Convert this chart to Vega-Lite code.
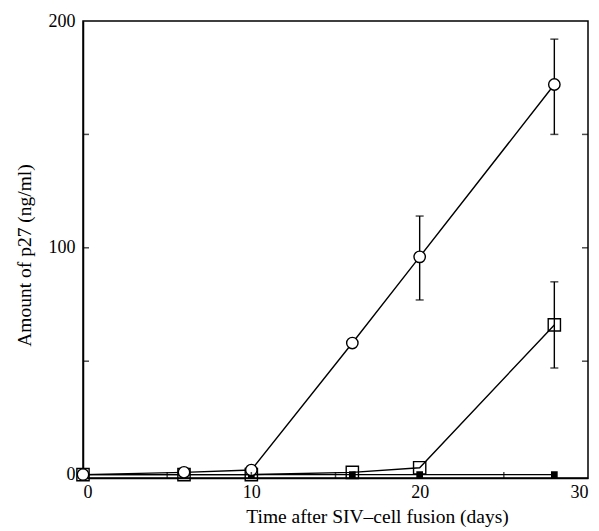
{
  "$schema": "https://vega.github.io/schema/vega-lite/v6.json",
  "autosize": "none",
  "width": 505,
  "height": 457,
  "padding": {"left": 83, "top": 21, "right": 11, "bottom": 53},
  "background": "white",
  "config": {
    "view": {"stroke": "black", "strokeWidth": 1.5},
    "font": "Liberation Serif",
    "axis": {"labelFont": "Liberation Serif", "titleFont": "Liberation Serif", "labelFontSize": 18, "titleFontSize": 19.5, "titleFontWeight": "normal", "labelColor": "black", "titleColor": "black", "domainColor": "black", "tickColor": "black", "grid": false}
  },
  "datasets": {
    "pts": [
      {"series": "circle", "day": 0, "value": 0},
      {"series": "circle", "day": 6, "value": 1},
      {"series": "circle", "day": 10, "value": 2},
      {"series": "circle", "day": 16, "value": 58},
      {"series": "circle", "day": 20, "value": 96},
      {"series": "circle", "day": 28, "value": 172},
      {"series": "square", "day": 0, "value": 0},
      {"series": "square", "day": 6, "value": 0},
      {"series": "square", "day": 10, "value": 0},
      {"series": "square", "day": 16, "value": 1},
      {"series": "square", "day": 20, "value": 3},
      {"series": "square", "day": 28, "value": 66},
      {"series": "filled", "day": 0, "value": 0},
      {"series": "filled", "day": 6, "value": 0},
      {"series": "filled", "day": 10, "value": 0},
      {"series": "filled", "day": 16, "value": 0},
      {"series": "filled", "day": 20, "value": 0},
      {"series": "filled", "day": 28, "value": 0}
    ],
    "err": [
      {"series": "circle", "day": 20, "lo": 77, "hi": 114},
      {"series": "circle", "day": 28, "lo": 150, "hi": 192},
      {"series": "square", "day": 28, "lo": 47, "hi": 85}
    ],
    "yticks": [{"y": 50}, {"y": 100}, {"y": 150}],
    "xticks": [{"x": 5}, {"x": 10}, {"x": 15}, {"x": 20}, {"x": 25}]
  },
  "layer": [
    {
      "data": {"name": "pts"},
      "mark": {"type": "line", "color": "black", "strokeWidth": 1.4},
      "encoding": {
        "x": {"field": "day", "type": "quantitative", "scale": {"domain": [0, 30], "nice": false},
              "axis": {"values": [0, 10, 20, 30], "ticks": false, "labelPadding": 5, "domainWidth": 1.5, "title": "Time after SIV\u2013cell fusion (days)", "titlePadding": 6, "titleX": 294}},
        "y": {"field": "value", "type": "quantitative", "scale": {"domain": [-1.5, 200], "nice": false, "zero": false},
              "axis": {"values": [0, 100, 200], "ticks": false, "labelPadding": 8, "domainWidth": 1.5, "title": "Amount of p27 (ng/ml)", "titlePadding": 14, "titleY": 234}},
        "detail": {"field": "series"}
      }
    },
    {
      "data": {"name": "err"},
      "mark": {"type": "rule", "color": "black", "strokeWidth": 1.4},
      "encoding": {
        "x": {"field": "day", "type": "quantitative"},
        "y": {"field": "lo", "type": "quantitative"},
        "y2": {"field": "hi"}
      }
    },
    {
      "data": {"name": "err"},
      "mark": {"type": "tick", "orient": "horizontal", "color": "black", "size": 8, "thickness": 1.5},
      "encoding": {
        "x": {"field": "day", "type": "quantitative"},
        "y": {"field": "lo", "type": "quantitative"}
      }
    },
    {
      "data": {"name": "err"},
      "mark": {"type": "tick", "orient": "horizontal", "color": "black", "size": 8, "thickness": 1.5},
      "encoding": {
        "x": {"field": "day", "type": "quantitative"},
        "y": {"field": "hi", "type": "quantitative"}
      }
    },
    {
      "data": {"name": "pts"},
      "transform": [{"filter": "datum.series == 'filled'"}],
      "mark": {"type": "point", "shape": "square", "filled": true, "color": "black", "size": 45, "opacity": 1},
      "encoding": {
        "x": {"field": "day", "type": "quantitative"},
        "y": {"field": "value", "type": "quantitative"}
      }
    },
    {
      "data": {"name": "pts"},
      "transform": [{"filter": "datum.series == 'square'"}],
      "mark": {"type": "point", "shape": "square", "filled": false, "fill": "white", "fillOpacity": 0, "stroke": "black", "strokeWidth": 1.4, "size": 150, "opacity": 1},
      "encoding": {
        "x": {"field": "day", "type": "quantitative"},
        "y": {"field": "value", "type": "quantitative"}
      }
    },
    {
      "data": {"name": "pts"},
      "transform": [{"filter": "datum.series == 'circle'"}],
      "mark": {"type": "point", "shape": "circle", "fill": "white", "fillOpacity": 1, "stroke": "black", "strokeWidth": 1.4, "size": 130, "opacity": 1},
      "encoding": {
        "x": {"field": "day", "type": "quantitative"},
        "y": {"field": "value", "type": "quantitative"}
      }
    },
    {
      "data": {"name": "yticks"},
      "mark": {"type": "tick", "orient": "horizontal", "color": "black", "size": 6, "thickness": 1.5, "xOffset": -3},
      "encoding": {
        "x": {"datum": 30, "type": "quantitative"},
        "y": {"field": "y", "type": "quantitative"}
      }
    },
    {
      "data": {"name": "yticks"},
      "mark": {"type": "tick", "orient": "horizontal", "color": "black", "size": 6, "thickness": 1.5, "xOffset": 3},
      "encoding": {
        "x": {"datum": 0, "type": "quantitative"},
        "y": {"field": "y", "type": "quantitative"}
      }
    },
    {
      "data": {"name": "xticks"},
      "mark": {"type": "tick", "orient": "vertical", "color": "black", "size": 6, "thickness": 1.5, "yOffset": -3},
      "encoding": {
        "x": {"field": "x", "type": "quantitative"},
        "y": {"datum": -1.5, "type": "quantitative"}
      }
    }
  ]
}
